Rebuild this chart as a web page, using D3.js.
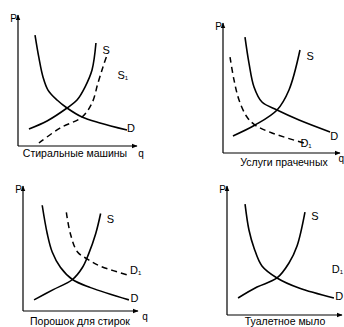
<!DOCTYPE html>
<html><head><meta charset="utf-8">
<script src="https://cdn.jsdelivr.net/npm/d3@7"></script>
<style>body{margin:0;background:#fff}svg{display:block}text{font-family:"Liberation Sans",Arial,sans-serif;fill:#000}</style>
</head><body><svg id="c" width="344" height="327"></svg>
<script>
// ---- data (x: quantity 0-100, y: price 0-100, per panel) ----
const titles = ["Стиральные машины", "Услуги прачечных", "Порошок для стирок", "Туалетное мыло"];
const demandD = [
  [[14.3,84.7],[17.6,67.2],[21.0,52.7],[25.2,42.7],[32.8,35.1],[41.2,29.0],[53.8,22.1],[68.9,17.6],[91.6,12.2]],
  [[18.8,89.2],[22.2,69.2],[26.5,50.8],[33.3,39.2],[46.2,33.1],[65.0,25.4],[91.5,16.2]],
  [[16.7,84.6],[21.1,61.8],[25.4,47.2],[32.5,35.0],[43.0,25.2],[58.8,18.7],[92.1,8.9]],
  [[15.7,86.0],[19.1,65.9],[23.5,52.0],[30.4,38.0],[43.5,28.7],[62.6,20.9],[93.0,13.2]]
];
const supplyS = [
  [[9.2,13.0],[24.4,19.1],[41.2,29.0],[49.6,35.1],[56.3,45.0],[62.2,58.0],[65.5,78.6]],
  [[8.5,13.1],[27.4,21.5],[46.2,33.1],[56.4,48.5],[65.8,79.2]],
  [[9.6,8.9],[26.3,17.1],[43.0,25.2],[51.8,35.0],[57.0,45.5],[63.2,61.8],[67.5,78.0]],
  [[9.6,13.2],[26.1,21.7],[43.5,28.7],[53.9,40.3],[60.9,53.5],[67.8,79.8]]
];
const shiftedCurve = [
  [[17.6,2.3],[35.3,13.7],[53.8,22.1],[62.2,32.8],[67.2,48.1],[71.4,60.3],[74.8,69.5]],
  [[6.0,73.8],[9.4,56.2],[13.7,40.8],[20.5,27.7],[27.4,21.5],[41.9,15.4],[69.2,7.7]],
  [[37.7,78.9],[41.2,61.8],[47.4,47.2],[56.1,41.5],[67.5,35.8],[92.1,28.5]],
  []
];
const shiftedName = [["S","1"], ["D","1"], ["D","1"], ["D","1"]];
const axisNames = ["P", "q"];

// ---- layout ----
const layout = [
  {ox:18, oy:146, w:119, h:131, tx:75, ty:157, qx:141, qy:157, qa:"middle",
   sLab:[74,73], dLab:[95,13.5], shLab:[88,54], shA:"middle"},
  {ox:223, oy:153, w:117, h:130, tx:284, ty:166, qx:344, qy:162, qa:"end",
   sLab:[74.5,75], dLab:[95,13], shLab:[71,8], shA:"middle"},
  {ox:23, oy:311, w:115, h:125, tx:80, ty:325, qx:145, qy:320, qa:"middle",
   sLab:[76,74], dLab:[97,10.5], shLab:[98,33], shA:"middle"},
  {ox:227, oy:315, w:115, h:129, tx:285, ty:324.5, qx:null, qy:null, qa:"middle",
   sLab:[76.5,76.5], dLab:[97.5,14.5], shLab:[102.5,36], shA:"end"}
];

const svg = d3.select("#c");
const defs = svg.append("defs");
defs.append("marker").attr("id","ar").attr("viewBox","0 0 10 10").attr("refX",9).attr("refY",5)
  .attr("markerWidth",6).attr("markerHeight",6).attr("markerUnits","userSpaceOnUse").attr("orient","auto")
  .append("path").attr("d","M0,1L10,5L0,9Z").attr("fill","#000");

layout.forEach((L, i) => {
  const x = d3.scaleLinear().domain([0,100]).range([L.ox, L.ox + L.w]);
  const y = d3.scaleLinear().domain([0,100]).range([L.oy, L.oy - L.h]);
  const g = svg.append("g");
  // axes
  g.append("line").attr("x1",x(0)).attr("y1",y(0)).attr("x2",x(100)).attr("y2",y(0))
    .attr("stroke","#000").attr("stroke-width",1.2).attr("marker-end","url(#ar)");
  g.append("line").attr("x1",x(0)).attr("y1",y(0)).attr("x2",x(0)).attr("y2",y(100))
    .attr("stroke","#000").attr("stroke-width",1.2).attr("marker-end","url(#ar)");
  g.append("text").attr("x",x(0)-1).attr("y",y(100)+7).attr("text-anchor","end")
    .attr("font-size",10).text(axisNames[0]);
  if (L.qx !== null) {
    g.append("text").attr("x",L.qx).attr("y",L.qy).attr("text-anchor",L.qa)
      .attr("font-size",10).text(axisNames[1]);
  }
  g.append("text").attr("x",L.tx).attr("y",L.ty).attr("text-anchor","middle")
    .attr("font-size",10.5).text(titles[i]);

  const line = d3.line().x(d => x(d[0])).y(d => y(d[1])).curve(d3.curveCatmullRom.alpha(0.5));
  g.append("path").attr("d", line(demandD[i])).attr("fill","none").attr("stroke","#000").attr("stroke-width",1.6);
  g.append("path").attr("d", line(supplyS[i])).attr("fill","none").attr("stroke","#000").attr("stroke-width",1.6);
  if (shiftedCurve[i].length) {
    g.append("path").attr("d", line(shiftedCurve[i])).attr("fill","none").attr("stroke","#000")
      .attr("stroke-width",1.5).attr("stroke-dasharray","6,4");
  }
  g.append("text").attr("x",x(L.sLab[0])).attr("y",y(L.sLab[1])+4).attr("text-anchor","middle").attr("font-size",11).text("S");
  g.append("text").attr("x",x(L.dLab[0])).attr("y",y(L.dLab[1])+4).attr("text-anchor","middle").attr("font-size",11).text("D");
  const t = g.append("text").attr("x",Math.min(x(L.shLab[0]), 343)).attr("y",y(L.shLab[1])+4).attr("text-anchor",L.shA).attr("font-size",11);
  t.append("tspan").text(shiftedName[i][0]);
  t.append("tspan").attr("font-size",6).attr("dy",1).text(shiftedName[i][1]);
});
</script></body></html>
